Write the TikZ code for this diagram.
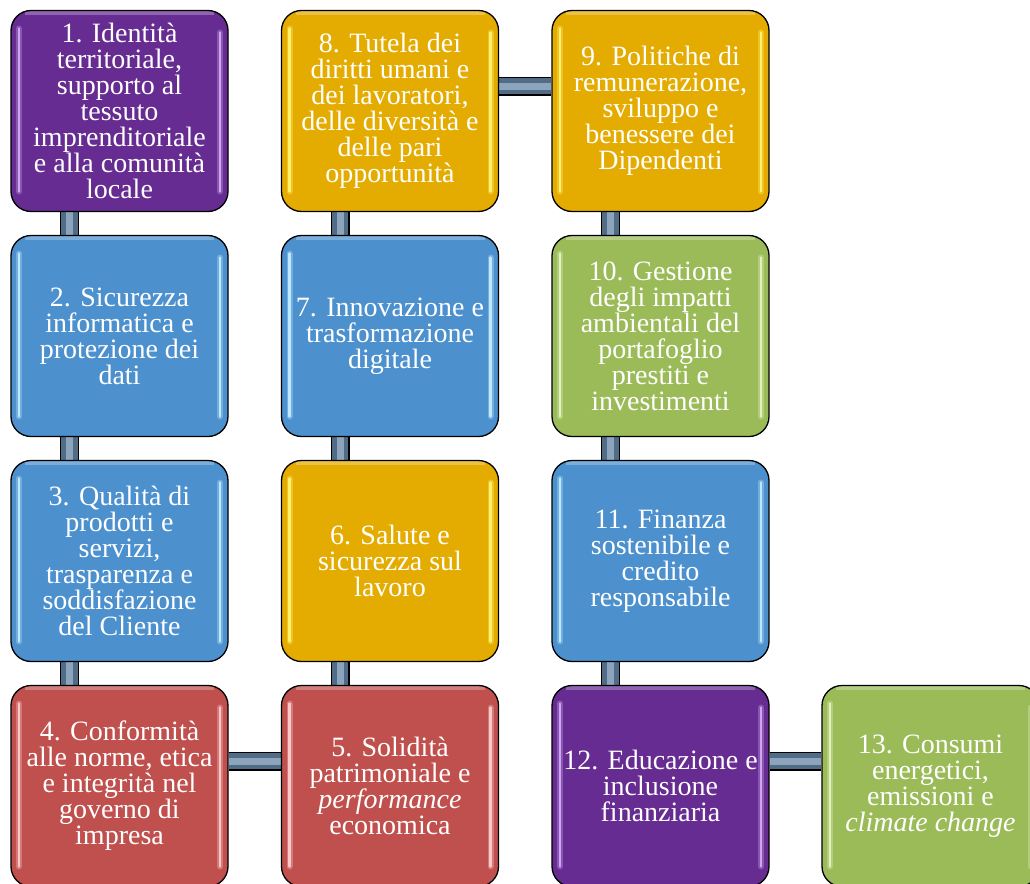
\documentclass[tikz,border=0pt]{standalone}
\usepackage{fontspec}
\setmainfont{Liberation Serif}
\usetikzlibrary{backgrounds}
\definecolor{cpurple}{RGB}{102,44,145}
\definecolor{cblue}{RGB}{76,144,206}
\definecolor{cgold}{RGB}{228,172,0}
\definecolor{cgreen}{RGB}{155,187,89}
\definecolor{cred}{RGB}{192,80,77}
\definecolor{hpurple}{RGB}{205,165,240}
\definecolor{hblue}{RGB}{190,232,255}
\definecolor{hgold}{RGB}{255,240,110}
\definecolor{hgreen}{RGB}{225,240,190}
\definecolor{hred}{RGB}{250,200,200}
\definecolor{conndark}{RGB}{80,108,134}
\definecolor{connlight}{RGB}{140,165,188}
\begin{document}
\begin{tikzpicture}[x=1pt,y=-1pt,
  tile/.style 2 args={draw=black, line width=1.3pt, rounded corners=20pt,
    minimum width=217pt, minimum height=201pt, inner sep=0pt, align=center,
    text=white, font=\fontsize{28}{26}\selectfont, fill=#1,
    path picture={
      \draw[draw=#1!55!white, line width=4pt, opacity=0.6]
        ([xshift=14pt,yshift=-2.5pt]path picture bounding box.north west) --
        ([xshift=-14pt,yshift=-2.5pt]path picture bounding box.north east);
      \draw[draw=#2, line width=6pt, opacity=0.35, line cap=round]
        ([xshift=8pt,yshift=-18pt]path picture bounding box.north west) --
        ([xshift=8pt,yshift=20pt]path picture bounding box.south west);
      \draw[draw=#2, line width=2.4pt, line cap=round]
        ([xshift=8pt,yshift=-18pt]path picture bounding box.north west) --
        ([xshift=8pt,yshift=20pt]path picture bounding box.south west);
      \draw[draw=#2, line width=6pt, opacity=0.35, line cap=round]
        ([xshift=-8pt,yshift=-22pt]path picture bounding box.north east) --
        ([xshift=-8pt,yshift=20pt]path picture bounding box.south east);
      \draw[draw=#2, line width=2.4pt, line cap=round]
        ([xshift=-8pt,yshift=-22pt]path picture bounding box.north east) --
        ([xshift=-8pt,yshift=20pt]path picture bounding box.south east);
    }},
  conn/.style={draw=black, line width=19pt,
    postaction={draw=conndark, line width=16.4pt},
    postaction={draw=connlight, line width=7pt}}
]
\useasboundingbox (0,0) rectangle (1030,883);
\clip (0,0) rectangle (1030,883);

\node[tile={cpurple}{hpurple}] (b1) at (119.5,111) {1. Identità\\territoriale,\\supporto al\\tessuto\\imprenditoriale\\e alla comunità\\locale};
\node[tile={cblue}{hblue}] (b2) at (119.5,336) {2. Sicurezza\\informatica e\\protezione dei\\dati};
\node[tile={cblue}{hblue}] (b3) at (119.5,561) {3. Qualità di\\prodotti e\\servizi,\\trasparenza e\\soddisfazione\\del Cliente};
\node[tile={cred}{hred}] (b4) at (119.5,786) {4. Conformità\\alle norme, etica\\e integrità nel\\governo di\\impresa};
\node[tile={cred}{hred}] (b5) at (390,786) {5. Solidità\\patrimoniale e\\\textit{performance}\\economica};
\node[tile={cgold}{hgold}] (b6) at (390,561) {6. Salute e\\sicurezza sul\\lavoro};
\node[tile={cblue}{hblue}] (b7) at (390,336) {7. Innovazione e\\trasformazione\\digitale};
\node[tile={cgold}{hgold}] (b8) at (390,111) {8. Tutela dei\\diritti umani e\\dei lavoratori,\\delle diversità e\\delle pari\\opportunità};
\node[tile={cgold}{hgold}] (b9) at (660.5,111) {9. Politiche di\\remunerazione,\\sviluppo e\\benessere dei\\Dipendenti};
\node[tile={cgreen}{hgreen}] (b10) at (660.5,336) {10. Gestione\\degli impatti\\ambientali del\\portafoglio\\prestiti e\\investimenti};
\node[tile={cblue}{hblue}] (b11) at (660.5,561) {11. Finanza\\sostenibile e\\credito\\responsabile};
\node[tile={cpurple}{hpurple}] (b12) at (660.5,786) {12. Educazione e\\inclusione\\finanziaria};
\node[tile={cgreen}{hgreen}] (b13) at (930.5,786) {13. Consumi\\energetici,\\emissioni e\\\textit{climate change}};

\begin{scope}[on background layer]
  \draw[conn] ([xshift=-50pt]b1.south) -- ([xshift=-50pt]b2.north);
  \draw[conn] ([xshift=-50pt]b2.south) -- ([xshift=-50pt]b3.north);
  \draw[conn] ([xshift=-50pt]b3.south) -- ([xshift=-50pt]b4.north);
  \draw[conn] ([yshift=25pt]b4.east) -- ([yshift=25pt]b5.west);
  \draw[conn] ([xshift=-50pt]b5.north) -- ([xshift=-50pt]b6.south);
  \draw[conn] ([xshift=-50pt]b6.north) -- ([xshift=-50pt]b7.south);
  \draw[conn] ([xshift=-50pt]b7.north) -- ([xshift=-50pt]b8.south);
  \draw[conn] ([yshift=25pt]b8.east) -- ([yshift=25pt]b9.west);
  \draw[conn] ([xshift=-50pt]b9.south) -- ([xshift=-50pt]b10.north);
  \draw[conn] ([xshift=-50pt]b10.south) -- ([xshift=-50pt]b11.north);
  \draw[conn] ([xshift=-50pt]b11.south) -- ([xshift=-50pt]b12.north);
  \draw[conn] ([yshift=25pt]b12.east) -- ([yshift=25pt]b13.west);
\end{scope}
\end{tikzpicture}
\end{document}
